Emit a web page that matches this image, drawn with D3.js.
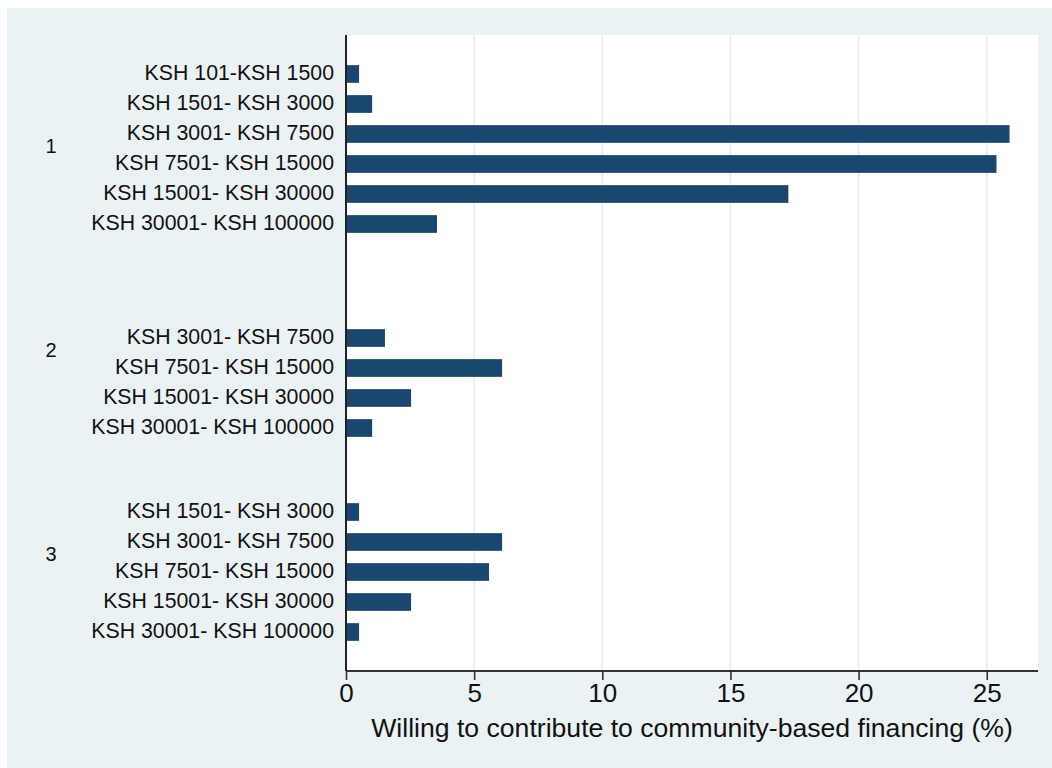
<!DOCTYPE html>
<html>
<head>
<meta charset="utf-8">
<script src="https://cdn.jsdelivr.net/npm/d3@7"></script>
<style>
  html, body { margin: 0; padding: 0; background: #ffffff; }
  svg { display: block; font-family: "Liberation Sans", Arial, Helvetica, sans-serif; }
</style>
</head>
<body>
<svg id="chart" width="1052" height="768"></svg>
<script>
// Outer grouping (rows of the bar chart)
const groups = ["1", "2", "3"];

// Monthly income bands within each group
const incomeBands = [
  "KSH 101-KSH 1500",
  "KSH 1501- KSH 3000",
  "KSH 3001- KSH 7500",
  "KSH 7501- KSH 15000",
  "KSH 15001- KSH 30000",
  "KSH 30001- KSH 100000"
];

// Share willing to contribute (%), one value per income band; null = no respondents
const group1Values = [0.51, 1.02, 25.89, 25.38, 17.26, 3.55];
const group2Values = [null, null, 1.52, 6.09, 2.54, 1.02];
const group3Values = [null, 0.51, 6.09, 5.58, 2.54, 0.51];

const xTicks = [0, 5, 10, 15, 20, 25];
const xTitle = "Willing to contribute to community-based financing (%)";

const seriesByGroup = [group1Values, group2Values, group3Values];
const rows = [];
groups.forEach((g, gi) => {
  incomeBands.forEach((band, bi) => {
    const v = seriesByGroup[gi][bi];
    if (v !== null) rows.push({ group: g, band, value: v });
  });
});

const svg = d3.select("#chart");
const W = 1052, H = 768;
const plot = { left: 346, right: 1038, top: 35, bottom: 671 };

const bg = "#eaf2f3";
const barColor = "#1a476f";

// Outer graph region
svg.append("rect")
  .attr("x", 7).attr("y", 8)
  .attr("width", W - 7).attr("height", H - 8)
  .attr("fill", bg);

// Plot region
svg.append("rect")
  .attr("x", plot.left).attr("y", plot.top)
  .attr("width", plot.right - plot.left).attr("height", plot.bottom - plot.top)
  .attr("fill", "#ffffff");

const x = d3.scaleLinear().domain([0, 27]).range([plot.left, plot.right]);

const yGroup = d3.scaleBand()
  .domain(groups)
  .range([plot.top, plot.bottom])
  .paddingInner(24 / 204)
  .paddingOuter(24 / 204);

const yBand = d3.scaleBand()
  .domain(incomeBands)
  .range([0, yGroup.bandwidth()])
  .paddingInner(0.41)
  .paddingOuter(0.205);

// Vertical grid lines
svg.append("g")
  .selectAll("line")
  .data(xTicks.filter(t => t > 0))
  .join("line")
  .attr("x1", d => x(d)).attr("x2", d => x(d))
  .attr("y1", plot.top).attr("y2", plot.bottom)
  .attr("stroke", "#e6eef1")
  .attr("stroke-width", 1.6);

// Bars
svg.append("g")
  .selectAll("rect")
  .data(rows)
  .join("rect")
  .attr("x", x(0))
  .attr("y", d => yGroup(d.group) + yBand(d.band))
  .attr("width", d => x(d.value) - x(0))
  .attr("height", yBand.bandwidth())
  .attr("fill", barColor);

// Income band labels
svg.append("g")
  .selectAll("text")
  .data(rows)
  .join("text")
  .attr("x", plot.left - 12)
  .attr("y", d => yGroup(d.group) + yBand(d.band) + yBand.bandwidth() / 2 + 5.6)
  .attr("text-anchor", "end")
  .attr("font-size", 21.3)
  .attr("fill", "#111")
  .text(d => d.band);

// Group labels
svg.append("g")
  .selectAll("text")
  .data(groups)
  .join("text")
  .attr("x", 51)
  .attr("y", d => yGroup(d) + yGroup.bandwidth() / 2 + 4)
  .attr("text-anchor", "middle")
  .attr("font-size", 20)
  .attr("fill", "#111")
  .text(d => d);

// Bottom axis
const xAxis = d3.axisBottom(x)
  .tickValues(xTicks)
  .tickSize(9)
  .tickPadding(4)
  .tickFormat(d3.format("d"));

const gx = svg.append("g")
  .attr("transform", `translate(0,${plot.bottom})`)
  .call(xAxis);
gx.select(".domain")
  .attr("d", `M${plot.left},0H${plot.right}`)
  .attr("stroke", "#333")
  .attr("stroke-width", 2);
gx.selectAll(".tick line").attr("stroke", "#333").attr("stroke-width", 1.6);
gx.selectAll(".tick text")
  .attr("font-size", 26)
  .attr("font-family", "'Liberation Sans', Arial, sans-serif")
  .attr("fill", "#111");

// Left axis line
svg.append("line")
  .attr("x1", plot.left).attr("x2", plot.left)
  .attr("y1", plot.top).attr("y2", plot.bottom)
  .attr("stroke", "#222")
  .attr("stroke-width", 2);

// Axis title
svg.append("text")
  .attr("x", (plot.left + plot.right) / 2)
  .attr("y", 737)
  .attr("text-anchor", "middle")
  .attr("font-size", 26.6)
  .attr("fill", "#111")
  .text(xTitle);
</script>
</body>
</html>
